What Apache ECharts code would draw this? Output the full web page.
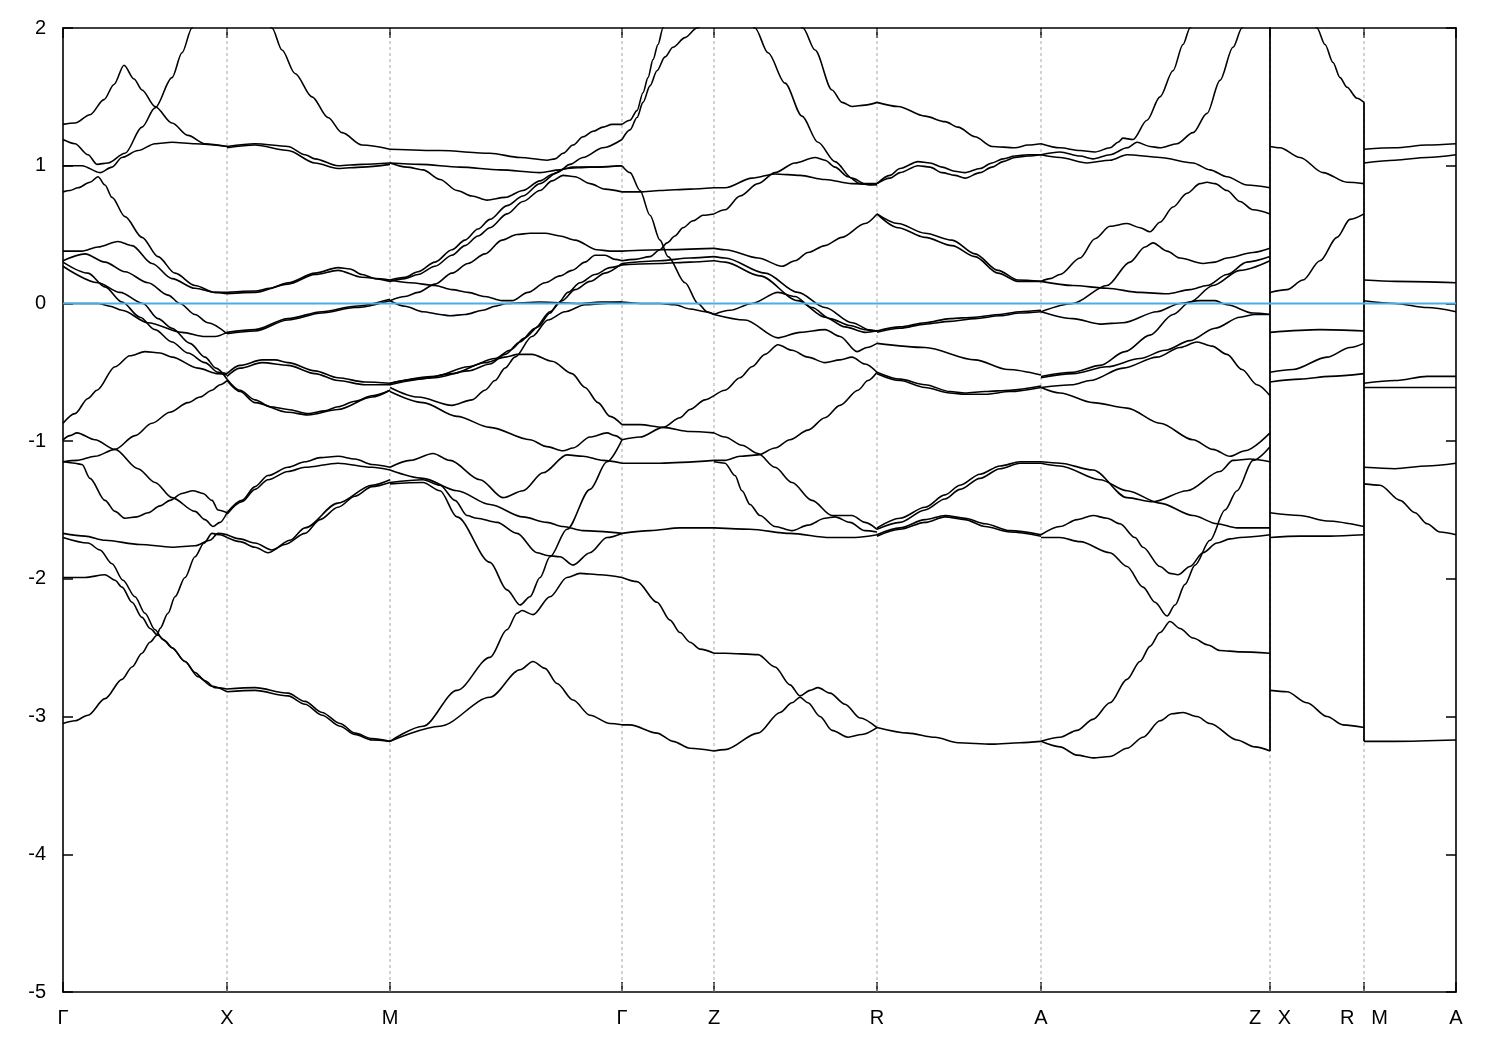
<!DOCTYPE html>
<html><head><meta charset="utf-8">
<script src="https://cdn.jsdelivr.net/npm/echarts@6/dist/echarts.min.js"></script>
<style>html,body{margin:0;padding:0;background:#fff}#c{width:1500px;height:1050px}</style>
</head><body><div id="c"></div>
<script>
// k-path positions of high-symmetry points and their labels
const kTicks=[0,164,327,559,651,814,978,1207,1301,1393];
const kLabels=['Γ','X','M','Γ','Z','R','A','Z   X','R   M','A'];
const breaks=[1207,1301];
const fermiLevel=0;
const yTicks=[-5,-4,-3,-2,-1,0,1,2];

// Bands, segment by segment: each entry is one band piece [k, E(eV)]
const segGX=[
[[0,1.30],[12,1.31],[27,1.37],[41,1.48],[51,1.59],[61,1.73],[71,1.63],[79,1.55],[92,1.43],[109,1.31],[125,1.22],[142,1.16],[164,1.14]],
[[0,1.19],[12,1.16],[25,1.08],[34,1.01],[45,1.02],[62,1.09],[79,1.28],[92,1.42],[109,1.64],[119,1.82],[129,2.00],[137,2.17],[164,2.6]],
[[0,1.00],[19,1.00],[37,0.95],[49,0.99],[59,1.06],[75,1.11],[92,1.16],[109,1.17],[132,1.16],[164,1.14]],
[[0,0.81],[7,0.82],[15,0.84],[27,0.88],[35,0.92],[42,0.86],[49,0.77],[62,0.63],[79,0.48],[95,0.34],[112,0.22],[132,0.13],[152,0.08],[164,0.08]],
[[0,0.38],[19,0.38],[35,0.41],[55,0.45],[69,0.42],[89,0.29],[109,0.18],[132,0.11],[152,0.08],[164,0.07]],
[[0,0.31],[22,0.36],[42,0.30],[62,0.23],[85,0.15],[105,0.06],[117,0.00],[132,-0.08],[145,-0.14],[164,-0.22]],
[[0,0.30],[25,0.22],[42,0.12],[59,0.01],[77,-0.10],[92,-0.19],[109,-0.28],[125,-0.36],[142,-0.43],[155,-0.50],[164,-0.51]],
[[0,0.27],[35,0.15],[57,0.08],[80,0.00],[95,-0.11],[109,-0.18],[127,-0.29],[142,-0.39],[153,-0.47],[164,-0.55]],
[[0,0.00],[35,0.00],[47,-0.02],[59,-0.05],[85,-0.14],[119,-0.21],[142,-0.24],[152,-0.24],[164,-0.21]],
[[0,-0.87],[12,-0.80],[25,-0.69],[34,-0.63],[52,-0.46],[67,-0.38],[82,-0.35],[97,-0.36],[109,-0.39],[135,-0.47],[155,-0.51],[164,-0.52]],
[[0,-1.15],[14,-1.14],[32,-1.11],[52,-1.06],[72,-0.96],[89,-0.87],[107,-0.79],[125,-0.72],[137,-0.68],[149,-0.63],[157,-0.59],[164,-0.56]],
[[0,-0.99],[7,-0.96],[14,-0.94],[32,-0.99],[52,-1.06],[75,-1.20],[92,-1.30],[109,-1.41],[132,-1.51],[142,-1.57],[150,-1.62],[157,-1.59],[164,-1.52]],
[[0,-1.15],[12,-1.16],[19,-1.17],[27,-1.27],[42,-1.43],[52,-1.51],[62,-1.56],[74,-1.55],[85,-1.52],[97,-1.47],[107,-1.43],[119,-1.38],[130,-1.36],[140,-1.38],[149,-1.43],[155,-1.50],[164,-1.52]],
[[0,-1.67],[22,-1.69],[42,-1.72],[77,-1.75],[109,-1.77],[132,-1.76],[147,-1.72],[155,-1.67],[164,-1.68]],
[[0,-1.70],[25,-1.74],[37,-1.79],[49,-1.89],[60,-2.01],[72,-2.13],[82,-2.25],[92,-2.37],[100,-2.44],[109,-2.50],[122,-2.60],[132,-2.68],[142,-2.74],[152,-2.79],[164,-2.80]],
[[0,-1.99],[22,-1.99],[42,-1.97],[52,-2.01],[59,-2.06],[69,-2.17],[79,-2.28],[87,-2.36],[95,-2.41],[102,-2.45],[109,-2.50],[122,-2.60],[135,-2.71],[149,-2.78],[164,-2.82]],
[[0,-3.05],[12,-3.03],[25,-2.99],[42,-2.87],[59,-2.73],[69,-2.64],[79,-2.54],[87,-2.46],[94,-2.41],[97,-2.36],[105,-2.25],[112,-2.13],[122,-1.99],[132,-1.84],[141,-1.74],[149,-1.67],[157,-1.68],[164,-1.70]]
];
const segXM=[
[[164,1.14],[192,1.16],[225,1.14],[242,1.08],[252,1.05],[275,1.00],[299,1.01],[327,1.02]],
[[164,1.13],[192,1.15],[225,1.11],[252,1.02],[275,0.98],[299,0.99],[327,1.01]],
[[164,2.6],[190,2.4],[209,2.00],[219,1.84],[232,1.67],[249,1.50],[265,1.35],[279,1.24],[299,1.15],[327,1.12]],
[[164,0.08],[192,0.09],[207,0.11],[225,0.15],[252,0.22],[275,0.26],[287,0.25],[299,0.21],[312,0.18],[327,0.17]],
[[164,0.07],[192,0.08],[225,0.14],[252,0.21],[275,0.24],[299,0.19],[327,0.16]],
[[164,-0.21],[192,-0.19],[225,-0.11],[259,-0.06],[292,-0.02],[327,0.03]],
[[164,-0.22],[192,-0.20],[225,-0.12],[259,-0.07],[292,-0.03],[327,0.02]],
[[164,-0.51],[177,-0.45],[199,-0.41],[212,-0.41],[225,-0.43],[252,-0.49],[275,-0.54],[302,-0.57],[327,-0.58]],
[[164,-0.53],[177,-0.47],[199,-0.43],[225,-0.45],[252,-0.51],[275,-0.56],[302,-0.59],[327,-0.59]],
[[164,-0.55],[177,-0.63],[192,-0.70],[207,-0.75],[225,-0.77],[245,-0.80],[262,-0.78],[275,-0.75],[292,-0.71],[309,-0.67],[327,-0.63]],
[[164,-0.56],[177,-0.64],[192,-0.72],[225,-0.79],[245,-0.81],[275,-0.77],[309,-0.68],[327,-0.63]],
[[164,-1.52],[179,-1.43],[192,-1.33],[205,-1.25],[225,-1.19],[242,-1.15],[257,-1.12],[275,-1.11],[292,-1.13],[309,-1.17],[327,-1.19]],
[[164,-1.53],[179,-1.44],[192,-1.35],[205,-1.28],[225,-1.22],[242,-1.19],[275,-1.16],[309,-1.19],[327,-1.21]],
[[164,-1.70],[177,-1.73],[192,-1.77],[205,-1.81],[222,-1.75],[242,-1.67],[257,-1.57],[275,-1.48],[292,-1.40],[309,-1.33],[327,-1.30]],
[[164,-1.68],[177,-1.71],[192,-1.74],[209,-1.79],[227,-1.72],[242,-1.63],[275,-1.45],[309,-1.32],[327,-1.28]],
[[164,-2.80],[192,-2.79],[225,-2.83],[242,-2.89],[259,-2.97],[277,-3.05],[292,-3.12],[309,-3.16],[327,-3.18]],
[[164,-2.82],[192,-2.81],[225,-2.85],[242,-2.91],[259,-2.99],[277,-3.07],[292,-3.13],[309,-3.17],[327,-3.18]]
];
const segMG=[
[[327,1.12],[377,1.11],[427,1.09],[457,1.06],[484,1.04],[492,1.05],[500,1.09],[510,1.15],[520,1.21],[530,1.25],[540,1.28],[549,1.30],[559,1.30]],
[[327,1.02],[357,1.01],[397,0.99],[437,0.97],[477,0.95],[497,0.97],[510,0.99],[537,0.99],[559,1.00]],
[[327,1.02],[344,0.99],[360,0.97],[377,0.90],[394,0.82],[409,0.78],[424,0.75],[442,0.77],[460,0.82],[477,0.89],[490,0.94],[502,0.98],[527,0.99],[559,1.00]],
[[327,0.17],[342,0.19],[355,0.23],[372,0.30],[389,0.39],[402,0.46],[415,0.54],[427,0.61],[444,0.71],[460,0.78],[477,0.87],[494,0.95],[507,1.01],[520,1.06],[540,1.13],[559,1.19]],
[[327,0.16],[342,0.18],[355,0.21],[372,0.27],[389,0.35],[402,0.42],[415,0.49],[427,0.55],[444,0.65],[460,0.74],[477,0.82],[489,0.89],[500,0.93],[512,0.92],[527,0.87],[542,0.83],[559,0.81]],
[[327,0.02],[342,0.05],[355,0.08],[372,0.14],[389,0.22],[405,0.29],[422,0.36],[439,0.46],[454,0.50],[467,0.51],[482,0.51],[497,0.49],[512,0.46],[534,0.39],[547,0.38],[559,0.38]],
[[327,0.17],[347,0.15],[372,0.13],[389,0.10],[405,0.08],[422,0.05],[439,0.02],[449,0.02],[465,0.08],[482,0.15],[497,0.20],[509,0.24],[522,0.30],[532,0.35],[542,0.35],[552,0.32],[559,0.31]],
[[327,0.02],[342,-0.02],[360,-0.06],[377,-0.08],[387,-0.09],[402,-0.08],[420,-0.05],[432,-0.02],[444,0.00],[477,0.01],[517,0.00],[537,0.01],[559,0.01]],
[[327,-0.58],[355,-0.55],[389,-0.51],[422,-0.43],[442,-0.39],[455,-0.37],[469,-0.37],[489,-0.42],[509,-0.51],[522,-0.61],[535,-0.72],[547,-0.82],[559,-0.88]],
[[327,-0.58],[372,-0.53],[405,-0.46],[432,-0.40],[447,-0.34],[462,-0.25],[475,-0.17],[487,-0.07],[495,0.00],[505,0.08],[517,0.15],[532,0.21],[547,0.26],[559,0.28]],
[[327,-0.59],[372,-0.54],[405,-0.49],[427,-0.44],[442,-0.37],[457,-0.28],[472,-0.18],[487,-0.06],[499,0.02],[512,0.10],[527,0.16],[542,0.22],[559,0.29]],
[[327,-0.61],[355,-0.68],[389,-0.74],[409,-0.70],[422,-0.63],[432,-0.56],[442,-0.47],[452,-0.39],[469,-0.24],[485,-0.12],[502,-0.06],[522,-0.01],[542,0.00],[559,0.01]],
[[327,-0.64],[360,-0.72],[394,-0.82],[427,-0.90],[467,-0.99],[484,-1.04],[500,-1.07],[510,-1.05],[527,-0.97],[544,-0.94],[552,-0.96],[559,-0.99]],
[[327,-1.19],[347,-1.14],[370,-1.09],[387,-1.14],[417,-1.28],[440,-1.41],[460,-1.36],[480,-1.23],[504,-1.10],[520,-1.11],[540,-1.14],[559,-1.16]],
[[327,-1.21],[360,-1.27],[394,-1.36],[427,-1.46],[460,-1.55],[484,-1.59],[500,-1.62],[520,-1.65],[559,-1.67]],
[[327,-1.30],[360,-1.28],[377,-1.32],[392,-1.43],[404,-1.54],[414,-1.56],[434,-1.59],[454,-1.67],[474,-1.81],[484,-1.83],[497,-1.84],[510,-1.90],[527,-1.81],[544,-1.70],[559,-1.67]],
[[327,-1.31],[360,-1.30],[377,-1.36],[394,-1.55],[427,-1.88],[444,-2.08],[457,-2.19],[467,-2.13],[477,-1.99],[487,-1.84],[504,-1.64],[527,-1.35],[544,-1.15],[559,-0.99]],
[[327,-3.18],[360,-3.07],[394,-2.81],[427,-2.57],[444,-2.37],[454,-2.25],[459,-2.23],[470,-2.26],[487,-2.13],[504,-1.99],[517,-1.96],[537,-1.97],[559,-1.99]],
[[327,-3.18],[377,-3.07],[427,-2.86],[457,-2.66],[470,-2.60],[482,-2.65],[494,-2.76],[510,-2.88],[527,-2.99],[547,-3.05],[559,-3.06]]
];
const segGZ=[
[[559,1.30],[567,1.33],[574,1.40],[580,1.53],[585,1.64],[590,1.77],[595,1.88],[600,2.00],[605,2.12],[620,2.5]],
[[559,1.19],[567,1.26],[574,1.35],[580,1.46],[587,1.58],[594,1.69],[602,1.79],[610,1.86],[622,1.93],[634,2.00],[647,2.07],[651,2.1]],
[[559,1.00],[567,0.95],[577,0.82],[587,0.64],[597,0.46],[605,0.34],[622,0.15],[635,0.00],[644,-0.06],[651,-0.08]],
[[559,0.81],[577,0.81],[597,0.82],[627,0.83],[651,0.84]],
[[559,0.38],[599,0.39],[651,0.40]],
[[559,0.31],[572,0.32],[587,0.34],[597,0.39],[604,0.44],[612,0.49],[620,0.55],[630,0.60],[640,0.64],[651,0.65]],
[[559,0.29],[597,0.31],[627,0.33],[651,0.34]],
[[559,0.28],[597,0.29],[627,0.30],[651,0.31]],
[[559,0.01],[577,0.00],[597,0.00],[612,-0.01],[627,-0.04],[642,-0.06],[651,-0.08]],
[[559,-0.88],[577,-0.88],[600,-0.90],[627,-0.93],[651,-0.94]],
[[559,-0.99],[577,-0.97],[600,-0.90],[617,-0.83],[627,-0.77],[642,-0.70],[651,-0.67]],
[[559,-1.16],[597,-1.16],[651,-1.14]],
[[559,-1.67],[587,-1.65],[617,-1.63],[651,-1.63]],
[[559,-1.99],[574,-2.02],[594,-2.17],[607,-2.30],[617,-2.39],[627,-2.46],[637,-2.51],[651,-2.54]],
[[559,-3.06],[567,-3.06],[594,-3.12],[610,-3.18],[627,-3.23],[651,-3.25]]
];
const segZR=[
[[651,2.57],[672,2.3],[692,2.00],[705,1.82],[722,1.60],[739,1.36],[755,1.17],[772,1.03],[789,0.91],[802,0.87],[814,0.87]],
[[717,2.4],[740,2.00],[752,1.84],[769,1.55],[779,1.46],[789,1.43],[802,1.44],[814,1.46]],
[[651,0.65],[662,0.68],[677,0.78],[695,0.87],[712,0.95],[732,1.02],[752,1.06],[762,1.04],[772,0.99],[785,0.92],[797,0.87],[807,0.86],[814,0.87]],
[[651,0.84],[662,0.84],[689,0.91],[712,0.94],[737,0.93],[762,0.90],[789,0.87],[814,0.86]],
[[651,0.40],[662,0.39],[695,0.33],[719,0.27],[732,0.31],[745,0.37],[762,0.42],[779,0.48],[802,0.58],[814,0.65]],
[[651,0.34],[662,0.33],[702,0.22],[735,0.08],[762,-0.03],[789,-0.14],[809,-0.20],[814,-0.20]],
[[651,0.31],[662,0.30],[697,0.20],[735,0.02],[762,-0.10],[782,-0.17],[802,-0.21],[814,-0.20]],
[[651,-0.08],[667,-0.05],[689,0.00],[715,0.08],[732,0.05],[749,-0.03],[767,-0.11],[787,-0.16],[802,-0.19],[814,-0.20]],
[[651,-0.08],[682,-0.12],[715,-0.25],[737,-0.21],[762,-0.19],[777,-0.24],[794,-0.35],[804,-0.32],[814,-0.29]],
[[651,-0.67],[662,-0.63],[677,-0.54],[689,-0.46],[702,-0.37],[715,-0.30],[729,-0.34],[745,-0.39],[762,-0.43],[777,-0.41],[789,-0.39],[802,-0.44],[814,-0.50]],
[[651,-0.94],[662,-0.97],[679,-1.03],[695,-1.09],[712,-1.19],[729,-1.30],[749,-1.43],[769,-1.54],[789,-1.54],[802,-1.59],[814,-1.64]],
[[651,-1.14],[662,-1.14],[677,-1.11],[695,-1.10],[712,-1.05],[727,-0.99],[745,-0.92],[762,-0.83],[777,-0.74],[795,-0.63],[805,-0.56],[814,-0.50]],
[[651,-1.15],[662,-1.16],[672,-1.25],[679,-1.36],[687,-1.46],[697,-1.54],[712,-1.62],[729,-1.65],[745,-1.61],[762,-1.56],[772,-1.55],[787,-1.59],[802,-1.65],[814,-1.66]],
[[651,-1.63],[687,-1.64],[727,-1.67],[767,-1.70],[792,-1.70],[814,-1.68]],
[[651,-2.54],[662,-2.54],[695,-2.55],[712,-2.64],[727,-2.77],[737,-2.85],[747,-2.81],[755,-2.79],[767,-2.83],[782,-2.91],[797,-3.01],[814,-3.08]],
[[651,-3.25],[662,-3.24],[695,-3.12],[717,-2.97],[729,-2.90],[737,-2.86],[745,-2.90],[757,-3.00],[769,-3.10],[785,-3.15],[799,-3.13],[814,-3.08]]
];
const segRA=[
[[814,1.46],[835,1.43],[862,1.36],[882,1.32],[895,1.28],[912,1.21],[929,1.14],[952,1.13],[965,1.15],[978,1.16]],
[[814,0.87],[827,0.93],[837,0.98],[855,1.03],[867,1.02],[879,0.99],[892,0.96],[902,0.95],[917,0.98],[929,1.02],[940,1.05],[952,1.07],[965,1.08],[978,1.08]],
[[814,0.87],[827,0.91],[837,0.95],[855,1.00],[867,0.99],[879,0.95],[892,0.93],[902,0.91],[917,0.95],[929,0.99],[940,1.03],[952,1.06],[965,1.07],[978,1.08]],
[[814,0.65],[835,0.58],[862,0.51],[889,0.46],[912,0.36],[935,0.24],[955,0.17],[978,0.16]],
[[814,0.65],[835,0.55],[862,0.48],[889,0.42],[912,0.34],[935,0.22],[955,0.16],[978,0.16]],
[[814,-0.20],[837,-0.17],[862,-0.14],[887,-0.11],[912,-0.10],[937,-0.08],[957,-0.06],[978,-0.05]],
[[814,-0.21],[837,-0.18],[862,-0.15],[887,-0.13],[912,-0.11],[937,-0.09],[957,-0.07],[978,-0.06]],
[[814,-0.29],[862,-0.32],[912,-0.41],[945,-0.48],[978,-0.52]],
[[814,-0.50],[837,-0.55],[862,-0.59],[887,-0.64],[902,-0.65],[922,-0.64],[947,-0.63],[978,-0.60]],
[[814,-0.51],[837,-0.56],[862,-0.61],[887,-0.65],[902,-0.66],[922,-0.66],[947,-0.64],[978,-0.61]],
[[814,-1.63],[837,-1.56],[862,-1.48],[882,-1.39],[897,-1.32],[917,-1.24],[937,-1.18],[957,-1.15],[978,-1.15]],
[[814,-1.64],[837,-1.59],[862,-1.50],[882,-1.42],[897,-1.35],[917,-1.27],[937,-1.20],[957,-1.16],[978,-1.16]],
[[814,-1.68],[837,-1.63],[862,-1.57],[882,-1.54],[902,-1.56],[922,-1.60],[947,-1.65],[978,-1.68]],
[[814,-1.69],[837,-1.64],[862,-1.59],[882,-1.55],[902,-1.57],[922,-1.62],[947,-1.66],[978,-1.69]],
[[814,-3.08],[845,-3.12],[872,-3.15],[895,-3.19],[929,-3.20],[957,-3.19],[978,-3.18]]
];
const segAZ=[
[[978,1.16],[997,1.13],[1017,1.11],[1032,1.10],[1047,1.13],[1055,1.17],[1060,1.20],[1070,1.19],[1084,1.33],[1097,1.50],[1110,1.69],[1120,1.88],[1127,2.00],[1134,2.13],[1145,2.3]],
[[978,1.08],[997,1.10],[1017,1.07],[1030,1.05],[1047,1.08],[1064,1.13],[1074,1.17],[1087,1.14],[1097,1.13],[1114,1.16],[1130,1.24],[1144,1.38],[1157,1.62],[1170,1.86],[1179,2.00],[1185,2.13],[1195,2.3]],
[[978,1.08],[997,1.06],[1024,1.02],[1047,1.04],[1064,1.08],[1097,1.06],[1130,1.02],[1147,0.97],[1164,0.92],[1184,0.86],[1207,0.84]],
[[978,0.16],[987,0.18],[997,0.21],[1017,0.33],[1032,0.47],[1047,0.56],[1064,0.58],[1077,0.55],[1087,0.52],[1097,0.59],[1110,0.70],[1124,0.80],[1137,0.87],[1144,0.88],[1152,0.87],[1164,0.82],[1177,0.74],[1190,0.68],[1207,0.65]],
[[978,0.16],[1010,0.13],[1044,0.11],[1077,0.08],[1104,0.07],[1127,0.10],[1144,0.13],[1164,0.21],[1184,0.30],[1207,0.34]],
[[978,-0.06],[1010,0.00],[1044,0.13],[1067,0.30],[1082,0.41],[1090,0.44],[1104,0.38],[1117,0.33],[1140,0.29],[1152,0.30],[1164,0.33],[1190,0.37],[1207,0.40]],
[[978,-0.06],[1010,-0.11],[1037,-0.15],[1060,-0.14],[1094,-0.06],[1117,0.00],[1137,0.02],[1152,0.02],[1164,-0.01],[1190,-0.07],[1207,-0.08]],
[[978,-0.53],[1010,-0.50],[1037,-0.45],[1062,-0.35],[1087,-0.23],[1110,-0.08],[1127,0.01],[1150,0.13],[1177,0.24],[1207,0.31]],
[[978,-0.54],[1010,-0.51],[1044,-0.46],[1077,-0.40],[1102,-0.34],[1127,-0.27],[1152,-0.18],[1177,-0.10],[1192,-0.08],[1207,-0.08]],
[[978,-0.61],[1010,-0.59],[1027,-0.56],[1060,-0.47],[1094,-0.39],[1117,-0.32],[1134,-0.28],[1149,-0.31],[1164,-0.37],[1179,-0.48],[1194,-0.59],[1207,-0.67]],
[[978,-0.61],[997,-0.65],[1030,-0.72],[1064,-0.76],[1097,-0.87],[1130,-0.99],[1150,-1.06],[1167,-1.11],[1182,-1.07],[1207,-0.94]],
[[978,-1.15],[997,-1.16],[1030,-1.21],[1064,-1.41],[1090,-1.44],[1124,-1.36],[1157,-1.22],[1170,-1.14],[1187,-1.13],[1207,-1.15]],
[[978,-1.16],[997,-1.18],[1037,-1.28],[1064,-1.36],[1097,-1.45],[1130,-1.54],[1154,-1.60],[1174,-1.63],[1207,-1.63]],
[[978,-1.68],[997,-1.62],[1014,-1.57],[1030,-1.54],[1044,-1.56],[1057,-1.60],[1072,-1.70],[1080,-1.77],[1097,-1.91],[1107,-1.96],[1115,-1.97],[1127,-1.91],[1140,-1.81],[1154,-1.74],[1167,-1.71],[1177,-1.70],[1207,-1.68]],
[[978,-1.70],[997,-1.70],[1017,-1.73],[1047,-1.81],[1064,-1.91],[1080,-2.06],[1092,-2.17],[1104,-2.27],[1112,-2.19],[1122,-2.04],[1132,-1.90],[1147,-1.72],[1162,-1.50],[1174,-1.36],[1190,-1.14],[1207,-1.04]],
[[978,-3.18],[997,-3.15],[1014,-3.10],[1030,-3.02],[1047,-2.90],[1064,-2.73],[1077,-2.60],[1087,-2.49],[1097,-2.39],[1107,-2.31],[1117,-2.36],[1130,-2.43],[1145,-2.48],[1157,-2.52],[1177,-2.53],[1207,-2.54]],
[[978,-3.18],[997,-3.22],[1014,-3.28],[1030,-3.30],[1047,-3.29],[1064,-3.23],[1080,-3.15],[1097,-3.03],[1109,-2.98],[1120,-2.97],[1134,-3.00],[1147,-3.05],[1174,-3.17],[1192,-3.22],[1207,-3.25]]
];
const segXR=[
[[1207,2.8],[1237,2.35],[1254,2.00],[1262,1.88],[1270,1.75],[1277,1.64],[1284,1.57],[1294,1.49],[1301,1.46]],
[[1207,1.14],[1217,1.13],[1237,1.06],[1260,0.95],[1284,0.88],[1301,0.87]],
[[1207,0.08],[1224,0.10],[1240,0.17],[1257,0.31],[1274,0.48],[1287,0.61],[1301,0.65]],
[[1207,-0.21],[1257,-0.19],[1301,-0.20]],
[[1207,-0.50],[1230,-0.48],[1264,-0.39],[1287,-0.32],[1301,-0.29]],
[[1207,-0.57],[1237,-0.55],[1267,-0.53],[1301,-0.51]],
[[1207,-1.52],[1237,-1.54],[1264,-1.58],[1301,-1.62]],
[[1207,-1.70],[1237,-1.69],[1267,-1.69],[1301,-1.68]],
[[1207,-2.81],[1224,-2.82],[1244,-2.90],[1264,-3.00],[1280,-3.06],[1301,-3.08]]
];
const segMA=[
[[1301,1.12],[1332,1.13],[1364,1.15],[1393,1.16]],
[[1301,1.02],[1332,1.04],[1364,1.06],[1393,1.08]],
[[1301,0.17],[1332,0.16],[1393,0.15]],
[[1301,0.02],[1332,0.00],[1364,-0.03],[1393,-0.06]],
[[1301,-0.58],[1332,-0.56],[1364,-0.53],[1393,-0.53]],
[[1301,-0.61],[1393,-0.61]],
[[1301,-1.19],[1332,-1.20],[1364,-1.18],[1393,-1.16]],
[[1301,-1.31],[1317,-1.32],[1337,-1.43],[1352,-1.52],[1364,-1.60],[1377,-1.66],[1393,-1.68]],
[[1301,-3.18],[1332,-3.18],[1393,-3.17]]
];
const segments=[segGX,segXM,segMG,segGZ,segZR,segRA,segAZ,segXR,segMA];

const FONT='"Liberation Sans", Arial, Helvetica, sans-serif';
const series=[];
// dashed vertical lines at high-symmetry points
kTicks.slice(1,-1).forEach(k=>{
  series.push({type:'line',data:[[k,yTicks[0]],[k,yTicks[yTicks.length-1]]],symbol:'none',silent:true,
    lineStyle:{color:'#a8a8a8',width:1,type:[3,3]},z:1,animation:false});
});
// bands
segments.forEach(seg=>seg.forEach(piece=>{
  series.push({type:'line',data:piece,symbol:'none',showSymbol:false,smooth:0.3,smoothMonotone:'x',silent:true,
    lineStyle:{color:'#000',width:1.6},z:3,animation:false});
}));
// vertical jumps at discontinuities (band ends on both sides)
breaks.forEach(k=>{
  const vals=[];
  segments.forEach(seg=>seg.forEach(p=>{
    if(p[0][0]===k) vals.push(p[0][1]);
    if(p[p.length-1][0]===k) vals.push(p[p.length-1][1]);
  }));
  series.push({type:'line',data:[[k,Math.min(...vals)],[k,Math.max(...vals)]],symbol:'none',silent:true,
    lineStyle:{color:'#000',width:1.8},z:3,animation:false});
});
// Fermi level
series.push({type:'line',data:[[kTicks[0],fermiLevel],[kTicks[kTicks.length-1],fermiLevel]],symbol:'none',silent:true,
  lineStyle:{color:'#4AAEE6',width:2},z:5,animation:false});

const axisLine={show:true,onZero:false,lineStyle:{color:'#000',width:1.6}};
const chart=echarts.init(document.getElementById('c'),null,{renderer:'canvas'});
chart.setOption({
  animation:false,
  backgroundColor:'#fff',
  grid:{left:63,right:44,top:28,bottom:58,containLabel:false},
  xAxis:[
    {type:'value',min:kTicks[0],max:kTicks[kTicks.length-1],position:'bottom',axisLine,
     axisTick:{show:true,inside:true,length:10,customValues:kTicks,lineStyle:{color:'#000',width:1.5}},
     axisLabel:{show:true,customValues:kTicks,formatter:v=>{const i=kTicks.indexOf(v);return i>=0?kLabels[i]:'';},
       color:'#000',fontSize:20,fontFamily:FONT,margin:16},
     splitLine:{show:false}},
    {type:'value',min:kTicks[0],max:kTicks[kTicks.length-1],position:'top',axisLine,
     axisTick:{show:true,inside:true,length:10,customValues:kTicks,lineStyle:{color:'#000',width:1.5}},
     axisLabel:{show:false},splitLine:{show:false}}
  ],
  yAxis:[
    {type:'value',min:yTicks[0],max:yTicks[yTicks.length-1],interval:1,position:'left',axisLine,
     axisTick:{show:true,inside:true,length:10,lineStyle:{color:'#000',width:1.5}},
     axisLabel:{color:'#000',fontSize:20,fontFamily:FONT,margin:17},splitLine:{show:false}},
    {type:'value',min:yTicks[0],max:yTicks[yTicks.length-1],interval:1,position:'right',axisLine,
     axisTick:{show:true,inside:true,length:10,lineStyle:{color:'#000',width:1.5}},
     axisLabel:{show:false},splitLine:{show:false}}
  ],
  series
});
</script></body></html>
